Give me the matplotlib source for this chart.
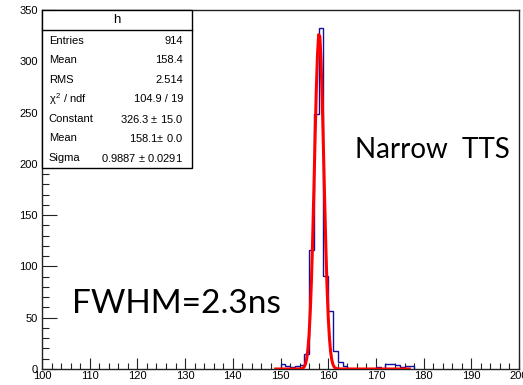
import matplotlib
matplotlib.use("Agg")
import matplotlib.pyplot as plt
from matplotlib.patches import Rectangle
import numpy as np

# histogram "h": 100 bins of width 1 between 100 and 200
h_lo, h_hi, h_nbins = 100, 200, 100
# bin contents, first filled bin starts at 150
first_bin = 150
counts = [5, 3, 2, 3, 4, 15, 116, 249, 332, 91, 57, 18, 7, 3,
          0, 0, 0, 0, 0, 0, 2, 0, 5, 5, 4, 2, 3, 3]

# gaussian fit curve as drawn
fit_x = [149, 153, 154.0, 154.25, 154.5, 154.75, 155.0, 155.25, 155.5, 155.75,
         156.0, 156.25, 156.5, 156.75, 157.0, 157.25, 157.5, 157.75, 158.0,
         158.25, 158.5, 158.75, 159.0, 159.25, 159.5, 159.75, 160.0, 160.25,
         160.5, 160.75, 161.0, 161.25, 161.5, 162.0, 163, 177]
fit_y = [0, 0, 0.06, 0.17, 0.43, 1.05, 2.4, 5.1, 10.3, 19.3,
         34, 57, 88, 128, 175, 225, 271, 306, 326,
         324, 300, 263, 215, 166, 120, 81, 51, 31,
         17, 9, 4.4, 2.0, 0.9, 0.1, 0, 0]

# stats box
stat_names = ["Entries", "Mean", "RMS", r"$\chi^{2}$ / ndf", "Constant", "Mean", "Sigma"]
stat_values = ["914", "158.4", "2.514", "104.9 / 19", "326.3 $\\pm$ 15.0",
               "158.1$\\pm$ 0.0", "0.9887 $\\pm$ 0.0291"]

plt.rcParams['font.family'] = ['Liberation Sans', 'DejaVu Sans']
plt.rcParams['mathtext.fontset'] = 'custom'
plt.rcParams['mathtext.rm'] = 'Liberation Sans'
plt.rcParams['mathtext.it'] = 'Liberation Sans'

fig = plt.figure(figsize=(5.23, 3.85), dpi=100)
ax = fig.add_axes([42 / 523, 16 / 385, 477 / 523, 359 / 385])

edges = np.linspace(h_lo, h_hi, h_nbins + 1)
i0 = int(round((first_bin - h_lo) / (edges[1] - edges[0])))
ax.stairs(counts, edges[i0:i0 + len(counts) + 1], baseline=0,
          color='#10109a', lw=1.0, zorder=2)
ax.plot(fit_x, fit_y, color='#ff0000', lw=2.2, zorder=3,
        solid_joinstyle='round')

ax.set_xlim(h_lo, h_hi)
ax.set_ylim(0, 350)
ax.set_xticks(np.arange(100, 201, 10))
ax.set_xticks(np.arange(100, 201, 2), minor=True)
ax.set_yticks(np.arange(0, 351, 50))
ax.set_yticks(np.arange(0, 351, 10), minor=True)
ax.tick_params(axis='both', which='both', direction='in', top=False, right=False,
               labelsize=8, width=0.8, color='#222222')
ax.tick_params(axis='x', which='major', length=8, pad=1.5)
ax.tick_params(axis='x', which='minor', length=4)
ax.tick_params(axis='y', which='major', length=11, pad=3)
ax.tick_params(axis='y', which='minor', length=5)
for s in ax.spines.values():
    s.set_linewidth(1.0)
    s.set_color('#222222')

# stats box
box_right = (191.7 - 42) / 477
box_bottom = (369 - 167.7) / 359
ax.add_patch(Rectangle((0, box_bottom), box_right, 1 - box_bottom,
                       transform=ax.transAxes, facecolor='white',
                       edgecolor='black', lw=1.0, zorder=4, clip_on=False))
head_y = (369 - 30) / 359
ax.plot([0, box_right], [head_y, head_y], transform=ax.transAxes,
        color='black', lw=1.0, zorder=5, clip_on=False)
ax.text(box_right / 2, (head_y + 1) / 2, "h", transform=ax.transAxes,
        ha='center', va='center', fontsize=9.5, zorder=6)
for k, (nm, vl) in enumerate(zip(stat_names, stat_values)):
    yy = (369 - (40.7 + 19.5 * k)) / 359
    ax.text(0.014, yy, nm, transform=ax.transAxes, ha='left', va='center',
            fontsize=8, zorder=6)
    ax.text(0.296, yy, vl, transform=ax.transAxes, ha='right', va='center',
            fontsize=8, zorder=6)

ax.text((355 - 42) / 477, (369 - 158) / 359, "Narrow  TTS", transform=ax.transAxes,
        ha='left', va='baseline', fontsize=20, family=['Lato', 'DejaVu Sans'])
ax.text((72 - 42) / 477, (369 - 313) / 359, "FWHM=2.3ns", transform=ax.transAxes,
        ha='left', va='baseline', fontsize=24, family=['Lato', 'DejaVu Sans'])

fig.savefig("out.png", dpi=100)
